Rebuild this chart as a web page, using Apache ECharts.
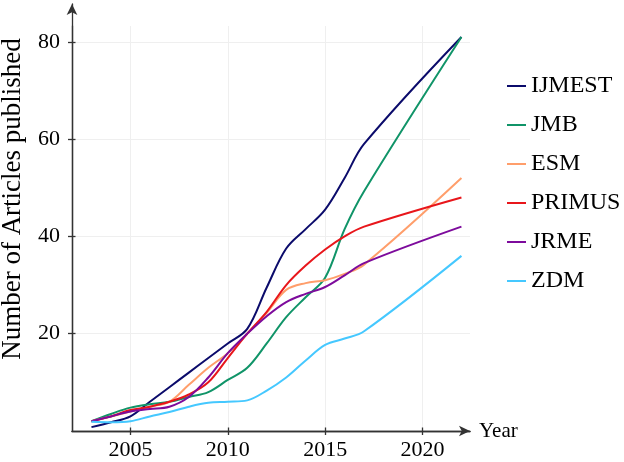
<!DOCTYPE html>
<html>
<head>
<meta charset="utf-8">
<script src="https://cdn.jsdelivr.net/npm/echarts@6/dist/echarts.min.js"></script>
<style>html,body{margin:0;padding:0;background:#fff;}#c{width:624px;height:462px;}</style>
</head>
<body>
<div id="c"></div>
<script>
const years = [2003,2004,2005,2006,2007,2008,2009,2010,2011,2012,2013,2014,2015,2016,2017,2022];
const IJMEST = [0.8,1.8,3,6,9,12,15,18,21,29.5,37.5,41.5,45.5,52,59,81];
const JMB    = [2,3.5,4.8,5.5,6,7,8,10.5,13,18,23.4,27.5,31.5,41.5,49.3,81];
const ESM    = [2,3,4,5,6,9.5,13,16,20,24.3,29,30.4,31,32.3,34.2,52];
const PRIMUS = [2,3,4.3,5,6,7.5,10,15,20,24.5,30,34,37.3,40,42,48];
const JRME   = [2,3,4,4.5,5,7,11,16,20,23.6,26.5,28.2,29.6,32,34.5,42];
const ZDM    = [1.9,1.8,2,3,3.9,5,5.8,6,6.3,8.3,11,14.5,17.7,19,20.5,36];
const seriesNames = ['IJMEST','JMB','ESM','PRIMUS','JRME','ZDM'];
const seriesValues = [IJMEST, JMB, ESM, PRIMUS, JRME, ZDM];
const colors = ['#0b0b6b','#109468','#ff9e6b','#e8161b','#7d0b9c','#45c8ff'];
const xTicks = [2005,2010,2015,2020];
const yTicks = [20,40,60,80];

const FONT = 'Liberation Serif';
const chart = echarts.init(document.getElementById('c'), null, {renderer:'canvas'});
const axisColor = '#333';

const series = seriesNames.map((n,i)=>({
  name:n, type:'line', xAxisIndex:0, yAxisIndex:0,
  data: years.map((y,j)=>[y, seriesValues[i][j]]),
  smooth:0.35, symbol:'none',
  lineStyle:{width:2, color:colors[i]}, itemStyle:{color:colors[i]},
  z:3
}));

chart.setOption({
  animation:false,
  color:colors,
  textStyle:{fontFamily:FONT},
  grid:[
    {left:72, right:154, top:26, bottom:31},
    {left:72, right:154, top:4, bottom:31}
  ],
  xAxis:[
    {type:'value', gridIndex:0, min:2002, max:2022.44,
     axisLine:{show:true, lineStyle:{color:axisColor, width:1.3}},
     axisTick:{show:true, inside:false, length:4, customValues:xTicks, lineStyle:{color:axisColor, width:1.3}},
     axisLabel:{show:true, customValues:xTicks, margin:8, fontSize:22, color:'#000', fontFamily:FONT,
                formatter:function(v){return String(Math.round(v));}},
     splitLine:{show:true, lineStyle:{color:'#efefef', width:1}}},
    {type:'value', gridIndex:1, min:2002, max:2022.44,
     name:'Year', nameLocation:'end', nameGap:9,
     nameTextStyle:{fontSize:21, color:'#000', fontFamily:FONT},
     axisLine:{show:true, symbol:['none','arrow'], symbolSize:[8,11], lineStyle:{color:axisColor, width:1.3}},
     axisTick:{show:true, inside:true, length:3.5, customValues:xTicks, lineStyle:{color:axisColor, width:1.3}},
     axisLabel:{show:false}, splitLine:{show:false}}
  ],
  yAxis:[
    {type:'value', gridIndex:0, min:0, max:83.25,
     axisLine:{show:true, lineStyle:{color:axisColor, width:1.3}},
     axisTick:{show:true, inside:false, length:4, customValues:yTicks, lineStyle:{color:axisColor, width:1.3}},
     axisLabel:{show:true, customValues:yTicks, margin:12, fontSize:22, color:'#000', fontFamily:FONT},
     splitLine:{show:true, lineStyle:{color:'#efefef', width:1}}},
    {type:'value', gridIndex:1, min:0, max:87.77,
     axisLine:{show:true, symbol:['none','arrow'], symbolSize:[8,11], lineStyle:{color:axisColor, width:1.3}},
     axisTick:{show:true, inside:true, length:3.5, customValues:yTicks, lineStyle:{color:axisColor, width:1.3}},
     axisLabel:{show:false}, splitLine:{show:false}}
  ],
  legend:{
    orient:'vertical', left:502, top:68,
    icon:'rect', itemWidth:19, itemHeight:2, itemGap:13,
    textStyle:{fontSize:24, lineHeight:26, color:'#000', fontFamily:FONT},
    data:seriesNames
  },
  graphic:[
    {type:'text', x:13, y:199, rotation:Math.PI/2,
     style:{text:'Number of Articles published', fontSize:27, fontFamily:FONT, fill:'#000',
            textAlign:'center', textVerticalAlign:'middle'}}
  ],
  series:series
});
</script>
</body>
</html>
